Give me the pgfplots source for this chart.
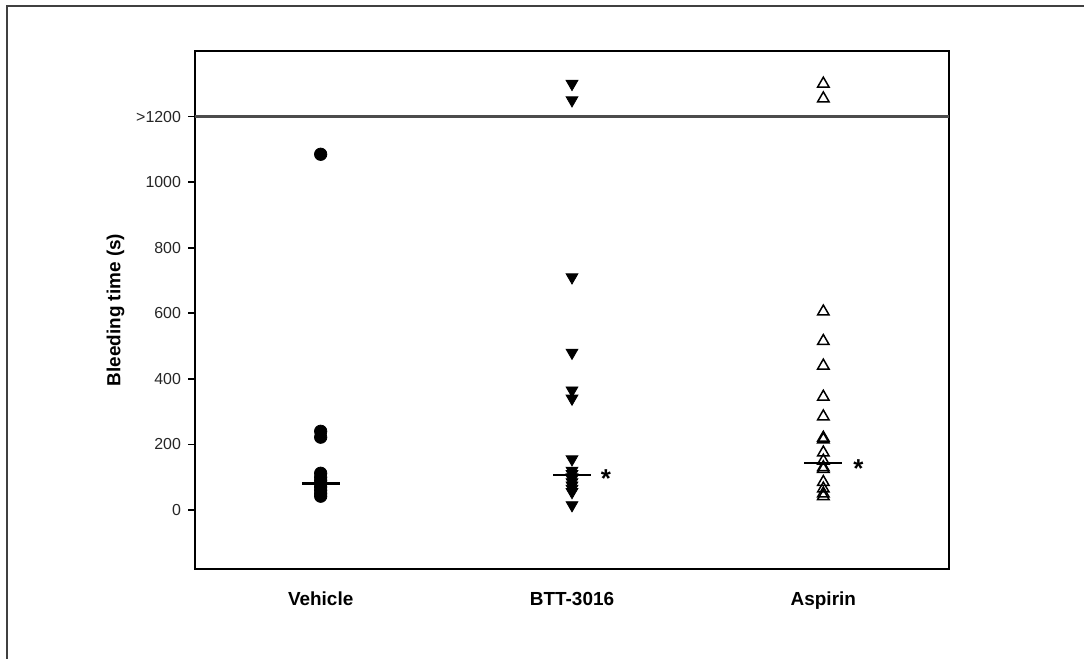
\documentclass[border=0pt]{standalone}
\usepackage{fontspec}
\setmainfont{Liberation Sans}
\usepackage{pgfplots}
\pgfplotsset{compat=1.18}
\begin{document}
\begin{tikzpicture}
\useasboundingbox (0,0) rectangle (542bp,329.5bp);
\draw[line width=0.8bp, black!75] (3.5bp,-2bp) -- (3.5bp,326.5bp) -- (545bp,326.5bp);
\begin{axis}[
  at={(97.5bp,45bp)}, anchor=south west,
  scale only axis, width=377bp, height=259bp,
  xmin=0.5, xmax=3.5, ymin=-180, ymax=1400,
  xtick={1,2,3}, xticklabels={Vehicle,BTT-3016,Aspirin},
  xticklabel style={font=\fontsize{9.5}{11}\selectfont\bfseries, yshift=-4.5bp},
  xtick style={draw=none},
  ytick={0,200,400,600,800,1000,1200},
  yticklabels={0,200,400,600,800,1000,{>1200}},
  yticklabel style={font=\fontsize{8}{9}\selectfont, text=black!85},
  ytick pos=left, tick align=outside, major tick length=3.5bp,
  ylabel={Bleeding time (s)},
  ylabel style={font=\fontsize{9.5}{11}\selectfont\bfseries, yshift=-1bp},
  axis line style={line width=0.8bp},
  tick style={line width=0.8bp, black},
  clip=false,
]
% >1200 break line
\addplot[black!70, line width=1.1bp] coordinates {(0.5,1200) (3.5,1200)};
% Vehicle
\addplot[only marks, mark=*, mark size=3.1bp, black] coordinates {
(1,1085) (1,240) (1,222) (1,112) (1,100) (1,90) (1,80) (1,70) (1,60) (1,50) (1,42)};
% BTT-3016
\addplot[only marks, mark=triangle*, mark size=3.4bp, black, mark options={rotate=180}] coordinates {
(2,1300) (2,1250) (2,710) (2,480) (2,365) (2,340) (2,155) (2,120) (2,110) (2,100) (2,95) (2,85) (2,75) (2,65) (2,55) (2,15)};
% Aspirin
\addplot[only marks, mark=triangle, mark size=3.3bp, black, mark options={line width=0.75bp}] coordinates {
(3,1300) (3,1255) (3,605) (3,515) (3,440) (3,345) (3,285) (3,220) (3,215) (3,175) (3,150) (3,130) (3,125) (3,85) (3,65) (3,50) (3,42)};
% medians
\addplot[black, line width=1.3bp] coordinates {(0.925,80) (1.075,80)};
\addplot[black, line width=1.3bp] coordinates {(1.925,107) (2.075,107)};
\addplot[black, line width=1.3bp] coordinates {(2.925,143) (3.075,143)};
\node[anchor=base, inner sep=0pt, font=\fontsize{13}{13}\selectfont\bfseries] at (axis cs:2.135,70) {*};
\node[anchor=base, inner sep=0pt, font=\fontsize{13}{13}\selectfont\bfseries] at (axis cs:3.14,100) {*};
\end{axis}
\end{tikzpicture}
\end{document}
